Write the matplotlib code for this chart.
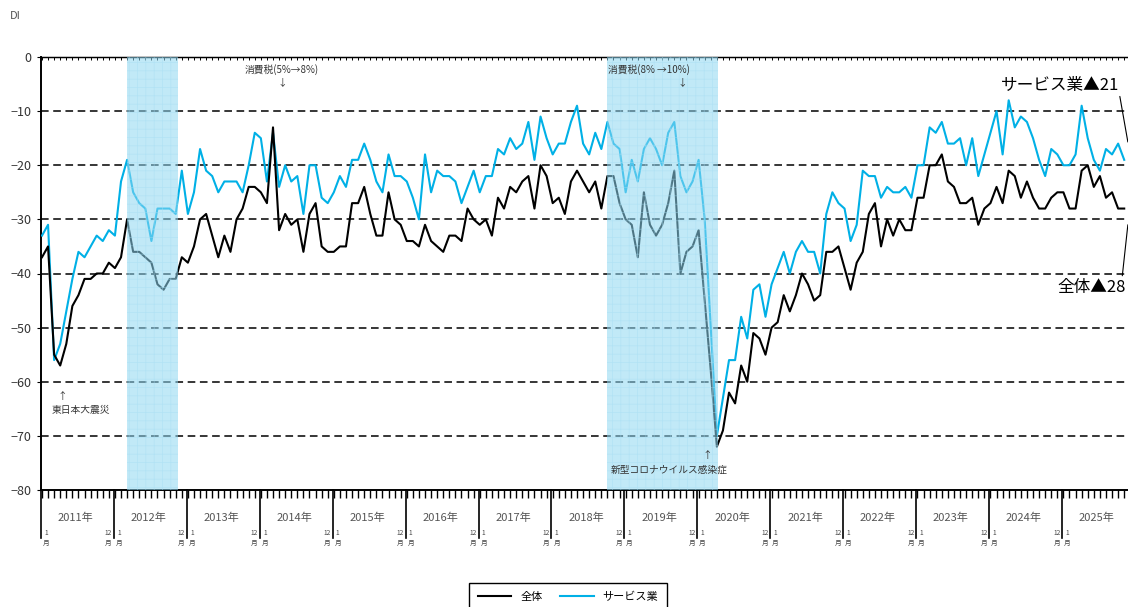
######################
# 1) import
######################
import matplotlib
matplotlib.use('Agg')
from matplotlib import pyplot as plt
import numpy as np

plt.rcParams['font.family'] = ['Noto Sans CJK JP', 'DejaVu Sans']
plt.rcParams['hatch.linewidth'] = 0.5

######################
# 2) data (月次 DI, 2011年1月〜2025年11月)
######################
years = list(range(2011, 2026))

zentai = [
    -37, -35, -55, -57, -53, -46, -44, -41, -41, -40, -40, -38,   # 2011
    -39, -37, -30, -36, -36, -37, -38, -42, -43, -41, -41, -37,   # 2012
    -38, -35, -30, -29, -33, -37, -33, -36, -30, -28, -24, -24,   # 2013
    -25, -27, -13, -32, -29, -31, -30, -36, -29, -27, -35, -36,   # 2014
    -36, -35, -35, -27, -27, -24, -29, -33, -33, -25, -30, -31,   # 2015
    -34, -34, -35, -31, -34, -35, -36, -33, -33, -34, -28, -30,   # 2016
    -31, -30, -33, -26, -28, -24, -25, -23, -22, -28, -20, -22,   # 2017
    -27, -26, -29, -23, -21, -23, -25, -23, -28, -22, -22, -27,   # 2018
    -30, -31, -37, -25, -31, -33, -31, -27, -21, -40, -36, -35,   # 2019
    -32, -45, -58, -72, -69, -62, -64, -57, -60, -51, -52, -55,   # 2020
    -50, -49, -44, -47, -44, -40, -42, -45, -44, -36, -36, -35,   # 2021
    -39, -43, -38, -36, -29, -27, -35, -30, -33, -30, -32, -32,   # 2022
    -26, -26, -20, -20, -18, -23, -24, -27, -27, -26, -31, -28,   # 2023
    -27, -24, -27, -21, -22, -26, -23, -26, -28, -28, -26, -25,   # 2024
    -25, -28, -28, -21, -20, -24, -22, -26, -25, -28, -28,        # 2025
]

service = [
    -33, -31, -56, -53, -47, -41, -36, -37, -35, -33, -34, -32,   # 2011
    -33, -23, -19, -25, -27, -28, -34, -28, -28, -28, -29, -21,   # 2012
    -29, -25, -17, -21, -22, -25, -23, -23, -23, -25, -20, -14,   # 2013
    -15, -23, -14, -24, -20, -23, -22, -29, -20, -20, -26, -27,   # 2014
    -25, -22, -24, -19, -19, -16, -19, -23, -25, -18, -22, -22,   # 2015
    -23, -26, -30, -18, -25, -21, -22, -22, -23, -27, -24, -21,   # 2016
    -25, -22, -22, -17, -18, -15, -17, -16, -12, -19, -11, -15,   # 2017
    -18, -16, -16, -12, -9, -16, -18, -14, -17, -12, -16, -17,    # 2018
    -25, -19, -23, -17, -15, -17, -20, -14, -12, -22, -25, -23,   # 2019
    -19, -30, -50, -70, -63, -56, -56, -48, -52, -43, -42, -48,   # 2020
    -42, -39, -36, -40, -36, -34, -36, -36, -40, -29, -25, -27,   # 2021
    -28, -34, -31, -21, -22, -22, -26, -24, -25, -25, -24, -26,   # 2022
    -20, -20, -13, -14, -12, -16, -16, -15, -20, -15, -22, -18,   # 2023
    -14, -10, -18, -8, -13, -11, -12, -15, -19, -22, -17, -18,    # 2024
    -20, -20, -18, -9, -15, -19, -21, -17, -18, -16, -19,         # 2025
]

# 景気後退期 (月インデックス)
recessions = [(13.98, 22.37), (92.9, 111.2)]

######################
# 3) figure
######################
W, H = 1128, 607
fig = plt.figure(figsize=(W / 100, H / 100), dpi=100)
ax = fig.add_axes([41 / W, 1 - 490 / H, 6.08 * 180.5 / W, 433 / H])

x = np.arange(len(zentai))
ax.plot(x, service, color='#00b0e6', lw=1.5, label='サービス業', zorder=3)
ax.plot(x, zentai, color='black', lw=1.5, label='全体', zorder=4)

for a, b in recessions:
    ax.axvspan(a, b, facecolor='#8ed7f2', alpha=0.55, edgecolor='#a6def3',
               hatch='++', lw=0, zorder=5)

for v in range(-70, 0, 10):
    ax.axhline(v, color='black', ls=(0, (5, 3)), lw=1.1, zorder=2)

ax.set_xlim(-0.16, -0.16 + 180.5)
ax.set_ylim(-80, 0)

ax.spines['left'].set_linewidth(1.4)
ax.spines['bottom'].set_linewidth(1.4)
ax.spines['top'].set_linewidth(0.9)
ax.spines['right'].set_visible(False)

ax.set_yticks(range(-80, 1, 10))
ax.tick_params(axis='y', labelsize=9, labelcolor='#333', length=3, pad=4)

# 月の目盛り
ax.set_xticks(np.arange(0, 181))
ax.set_xticklabels([])
ax.tick_params(axis='x', direction='out', length=6, width=1)
top = ax.secondary_xaxis('top')
top.spines['top'].set_linewidth(0.9)
top.set_xticks(np.arange(0, 181))
top.set_xticklabels([])
top.tick_params(direction='in', length=2, width=0.7)

# 年の区切りと年ラベル
tr = ax.get_xaxis_transform()
for k in range(len(years) + 1):
    xd = 12 * k - 0.2 if k > 0 else -0.16
    ax.plot([xd, xd], [0, -0.111], transform=tr, clip_on=False, color='black', lw=1.2)
    if k == len(years):
        continue
    if k > 0:
        ax.text(xd - 0.85, -0.099, '12', transform=tr, ha='center', va='center', fontsize=4.8, color='#444')
        ax.text(xd - 0.85, -0.122, '月', transform=tr, ha='center', va='center', fontsize=4.8, color='#444')
    ax.text(xd + 0.85, -0.099, '1', transform=tr, ha='center', va='center', fontsize=4.8, color='#444')
    ax.text(xd + 0.85, -0.122, '月', transform=tr, ha='center', va='center', fontsize=4.8, color='#444')
for k, y in enumerate(years):
    ax.text(12 * k + 5.5, -0.065, f'{y}年', transform=tr, ha='center', va='center', fontsize=8, color='#555')

######################
# 4) 注記
######################
ax.text(39.5, -2.4, '消費税(5%→8%)', ha='center', va='center', fontsize=7, color='#333', zorder=6)
ax.text(39.5, -4.6, '↓', ha='center', va='center', fontsize=7, color='#333', zorder=6)
ax.text(93.1, -2.4, '消費税(8% →10%)', ha='left', va='center', fontsize=7, color='#333', zorder=6)
ax.text(105.4, -4.6, '↓', ha='center', va='center', fontsize=7, color='#333', zorder=6)
ax.text(3.3, -62.7, '↑', ha='center', va='center', fontsize=7, color='#333')
ax.text(6.4, -65.2, '東日本大震災', ha='center', va='center', fontsize=7, color='#333')
ax.text(109.4, -73.6, '↑', ha='center', va='center', fontsize=7, color='#333', zorder=6)
ax.text(103.1, -76.2, '新型コロナウイルス感染症', ha='center', va='center', fontsize=7, color='#333', zorder=6)

ax.annotate('サービス業▲21', xy=(178.6, -15.7), xytext=(177.2, -5.2), ha='right', va='center',
            fontsize=12, arrowprops=dict(arrowstyle='-', lw=0.8, color='black',
                                         shrinkA=0, shrinkB=0, relpos=(1.0, 0.0)),
            annotation_clip=False)
ax.annotate('全体▲28', xy=(178.6, -31), xytext=(178.2, -42.5), ha='right', va='center',
            fontsize=12, arrowprops=dict(arrowstyle='-', lw=0.8, color='black',
                                         shrinkA=0, shrinkB=0, relpos=(0.95, 1.0)),
            annotation_clip=False)

fig.text(15 / W, 1 - 16 / H, 'DI', ha='center', va='center', fontsize=8, color='#555')

# 凡例の並び: 全体, サービス業
handles, labels = ax.get_legend_handles_labels()
leg = fig.legend(handles[::-1], labels[::-1], loc='upper center',
                 bbox_to_anchor=(568 / W, 1 - 577 / H), ncol=2,
                 fancybox=False, edgecolor='black', fontsize=8, handlelength=3.0,
                 columnspacing=1.6, borderpad=0.8, framealpha=1)
leg.get_frame().set_linewidth(1)

plt.savefig('out.png', dpi=100)
